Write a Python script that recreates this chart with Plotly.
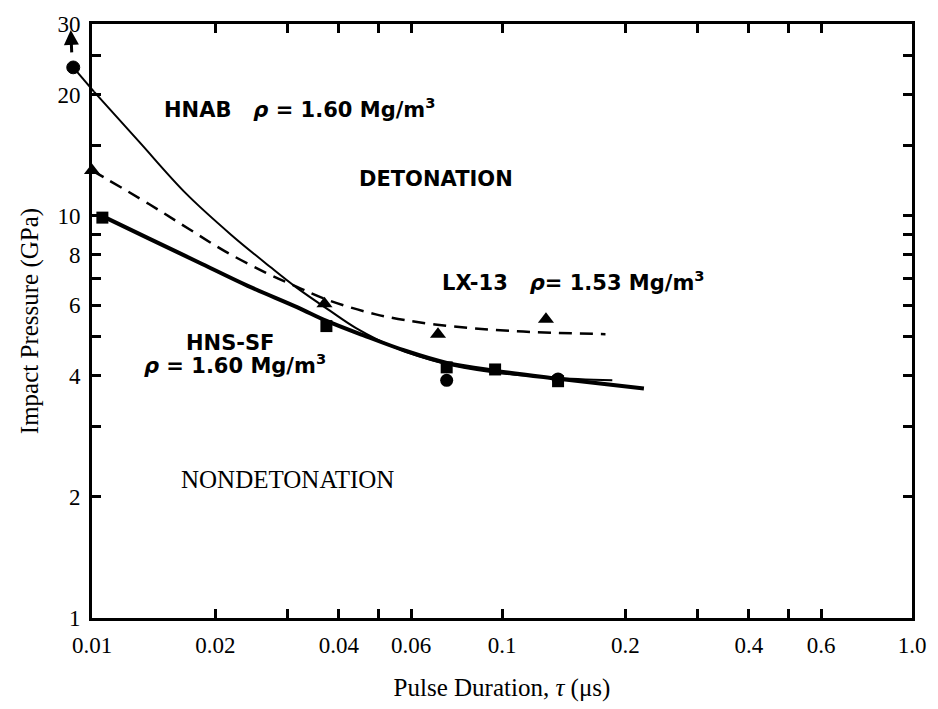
import plotly.graph_objects as go
import numpy as np

# ---- data ----
hnab_curve_x = [0.01011, 0.01304, 0.01692, 0.02183, 0.02723, 0.03162, 0.03795, 0.04406, 0.05499, 0.07255, 0.09568, 0.1334, 0.1858]
hnab_curve_y = [20.37, 15.27, 11.39, 8.98, 7.46, 6.62, 5.82, 5.26, 4.70, 4.29, 4.08, 3.96, 3.90]
hnab_pts_x = [0.0090, 0.0733, 0.137]
hnab_pts_y = [23.4, 3.90, 3.93]

hns_curve_x = [0.01057, 0.01378, 0.01818, 0.02398, 0.03162, 0.03733, 0.04581, 0.05812, 0.07336, 0.09568, 0.1356, 0.2219]
hns_curve_y = [10.0, 8.78, 7.67, 6.70, 5.93, 5.48, 5.05, 4.62, 4.31, 4.12, 3.94, 3.72]
hns_pts_x = [0.0106, 0.0373, 0.0733, 0.0962, 0.137]
hns_pts_y = [9.9, 5.32, 4.2, 4.15, 3.88]

lx_curve_x = [0.0100, 0.01377, 0.0172, 0.02112, 0.02635, 0.03162, 0.03692, 0.04924, 0.06864, 0.1069, 0.1788]
lx_curve_y = [12.97, 10.70, 9.29, 8.16, 7.25, 6.66, 6.22, 5.69, 5.37, 5.17, 5.08]
lx_pts_x = [0.0100, 0.0369, 0.0698, 0.128]
lx_pts_y = [12.97, 6.05, 5.08, 5.53]

x_tickvals = [0.01, 0.02, 0.04, 0.06, 0.1, 0.2, 0.4, 0.6, 1.0]
x_ticktext = ["0.01", "0.02", "0.04", "0.06", "0.1", "0.2", "0.4", "0.6", "1.0"]
x_minor_ticks = [0.03, 0.05, 0.3, 0.5]
y_tickvals = [1, 2, 4, 6, 8, 10, 20, 30]
y_ticktext = ["1", "2", "4", "6", "8", "10", "20", "30"]
y_minor_ticks = [3, 5, 7, 9, 15, 25]

X_RANGE = [-2, 0]
Y_RANGE = [0, np.log10(30)]

serif = "Liberation Serif, Times New Roman, serif"
sans = "DejaVu Sans, Verdana, sans-serif"


def xpaper(v):
    return (np.log10(v) - X_RANGE[0]) / (X_RANGE[1] - X_RANGE[0])


fig = go.Figure()
fig.add_trace(go.Scatter(x=hnab_curve_x, y=hnab_curve_y, mode="lines",
                         line=dict(color="black", width=2, shape="spline", smoothing=1.0)))
fig.add_trace(go.Scatter(x=hns_curve_x, y=hns_curve_y, mode="lines",
                         line=dict(color="black", width=4, shape="spline", smoothing=1.0)))
fig.add_trace(go.Scatter(x=lx_curve_x, y=lx_curve_y, mode="lines",
                         line=dict(color="black", width=2.5, dash="13px,8px", shape="spline", smoothing=1.0)))
fig.add_trace(go.Scatter(x=hnab_pts_x[1:], y=hnab_pts_y[1:], mode="markers", cliponaxis=False,
                         marker=dict(symbol="circle", size=13, color="black")))
fig.add_trace(go.Scatter(x=hns_pts_x, y=hns_pts_y, mode="markers", cliponaxis=False,
                         marker=dict(symbol="square", size=12, color="black")))
fig.add_trace(go.Scatter(x=lx_pts_x, y=lx_pts_y, mode="markers", cliponaxis=False,
                         marker=dict(symbol="triangle-up", size=14, color="black")))

# the first HNAB point lies left of the axis: draw it (and its link to the curve) outside the clip
fig.add_shape(type="line", xref="paper", yref="y",
              x0=xpaper(hnab_pts_x[0]), y0=hnab_pts_y[0],
              x1=xpaper(hnab_curve_x[0]), y1=hnab_curve_y[0],
              line=dict(color="black", width=2))
half_dec = 6.5 / 409.6  # half marker height in decades
fig.add_shape(type="circle", xref="paper", yref="y",
              xsizemode="pixel", xanchor=xpaper(hnab_pts_x[0]),
              x0=-6.5, x1=6.5,
              y0=hnab_pts_y[0] / 10 ** half_dec, y1=hnab_pts_y[0] * 10 ** half_dec,
              fillcolor="black", line=dict(color="black", width=1))
fig.add_annotation(xref="paper", yref="y", x=xpaper(hnab_pts_x[0]) - 0.003, y=np.log10(29.0),
                   ax=1, ay=24, showarrow=True, arrowhead=2, arrowsize=1, arrowwidth=3,
                   arrowcolor="black", text="")

bold = dict(family=sans, size=21, color="black")
ann = [
    dict(x=-2 + (163 - 92) / 416, y=np.log10(10) + (213 - 103) / 409.6,
         text="<b>HNAB&nbsp;&nbsp; <i>ρ</i> = 1.60 Mg/m<sup>3</sup></b>", font=bold),
    dict(x=-2 + (361 - 92) / 416, y=np.log10(10) + (213 - 175) / 409.6,
         text="<b>DETONATION</b>", font=bold),
    dict(x=-2 + (445 - 92) / 416, y=np.log10(10) + (213 - 279) / 409.6,
         text="<b>LX-13&nbsp;&nbsp; <i>ρ</i>= 1.53 Mg/m<sup>3</sup></b>", font=bold),
    dict(x=-2 + (185 - 92) / 416, y=np.log10(10) + (213 - 342) / 409.6,
         text="<b>HNS-SF</b>", font=bold),
    dict(x=-2 + (143 - 92) / 416, y=np.log10(10) + (213 - 364) / 409.6,
         text="<b><i>ρ</i> = 1.60 Mg/m<sup>3</sup></b>", font=bold),
    dict(x=-2 + (180 - 92) / 416, y=np.log10(10) + (213 - 482) / 409.6,
         text="NONDETONATION", font=dict(family=serif, size=25, color="black")),
]
for a in ann:
    fig.add_annotation(xref="x", yref="y", showarrow=False, xanchor="left", yanchor="middle", **a)

axis_common = dict(type="log", showgrid=False, zeroline=False, showline=True, linecolor="black",
                   linewidth=3, mirror="ticks", ticks="inside", ticklen=9, tickwidth=2.5,
                   tickcolor="black", tickfont=dict(family=serif, size=23, color="black"))
minor_common = dict(ticks="inside", ticklen=9, tickwidth=2.5, tickcolor="black", showgrid=False, tickmode="array")
fig.update_xaxes(range=X_RANGE, tickmode="array", tickvals=x_tickvals, ticktext=x_ticktext, ticklabelstandoff=4,
                 minor=dict(tickvals=x_minor_ticks, **minor_common),
                 title=dict(text="Pulse Duration, <i>τ</i> (μs)", font=dict(family=serif, size=25, color="black"), standoff=22),
                 **axis_common)
fig.update_yaxes(range=Y_RANGE, tickmode="array", tickvals=y_tickvals, ticktext=y_ticktext, ticklabelstandoff=4,
                 minor=dict(tickvals=y_minor_ticks, **minor_common),
                 title=dict(text="Impact Pressure (GPa)", font=dict(family=serif, size=25, color="black"), standoff=12),
                 **axis_common)
fig.update_layout(width=938, height=709, showlegend=False,
                  margin=dict(l=92, r=14, t=16, b=88),
                  plot_bgcolor="white", paper_bgcolor="white")
fig.write_html("out.html")
